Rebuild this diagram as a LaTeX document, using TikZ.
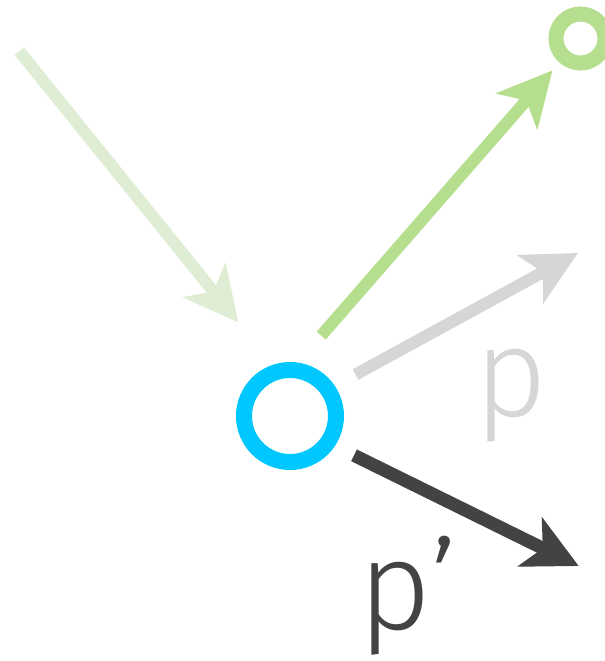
\documentclass[tikz,border=0pt]{standalone}
\usepackage{fontspec}
\newfontfamily\labelfont{Fira Sans Light}
\usetikzlibrary{arrows.meta}
\definecolor{rayfaint}{HTML}{E0EDD5}
\definecolor{raygreen}{HTML}{B5DE8F}
\definecolor{raygray}{HTML}{D6D6D6}
\definecolor{raydark}{HTML}{434343}
\definecolor{hitblue}{HTML}{00C8FF}

\begin{document}
\begin{tikzpicture}[x=1bp, y=-1bp, >={Stealth[length=54bp, width=54bp, inset=14bp]},
    ray/.style={->, line width=12bp},
    ring/.style={draw, circle, inner sep=0pt},
    lbl/.style={inner sep=0pt, anchor=base west, font=\labelfont\fontsize{126bp}{126bp}\selectfont}]
    \useasboundingbox (0,0) rectangle (605,661);

    \node [ring, hitblue, line width=16bp, minimum size=92bp] (hit) at (290,416) {};
    \node [ring, raygreen, line width=15bp, minimum size=49bp] (light) at (580.5,38.5) {};

    % ray end points
    \coordinate (inTail) at (19.3,51.2);
    \coordinate (inTip) at (238.4,322.5);
    \coordinate (outTail) at (321.2,335.6);
    \coordinate (outTip) at (552.5,70.4);
    \coordinate (pTail) at (355.5,374.5);
    \coordinate (pTip) at (578,253);
    \coordinate (qTail) at (354,455.3);
    \coordinate (qTip) at (578.7,566);

    \draw [ray, rayfaint] (inTail) -- (inTip);
    \draw [ray, raygreen] (outTail) -- (outTip);
    \draw [ray, raygray] (pTail) -- (pTip);
    \draw [ray, raydark, line width=13bp] (qTail) -- (qTip);

    \node [lbl, raygray] (pLabel) at (474,416) {p};
    \node [lbl, raydark] (qLabel) at (358,629) {p’};
\end{tikzpicture}
\end{document}
